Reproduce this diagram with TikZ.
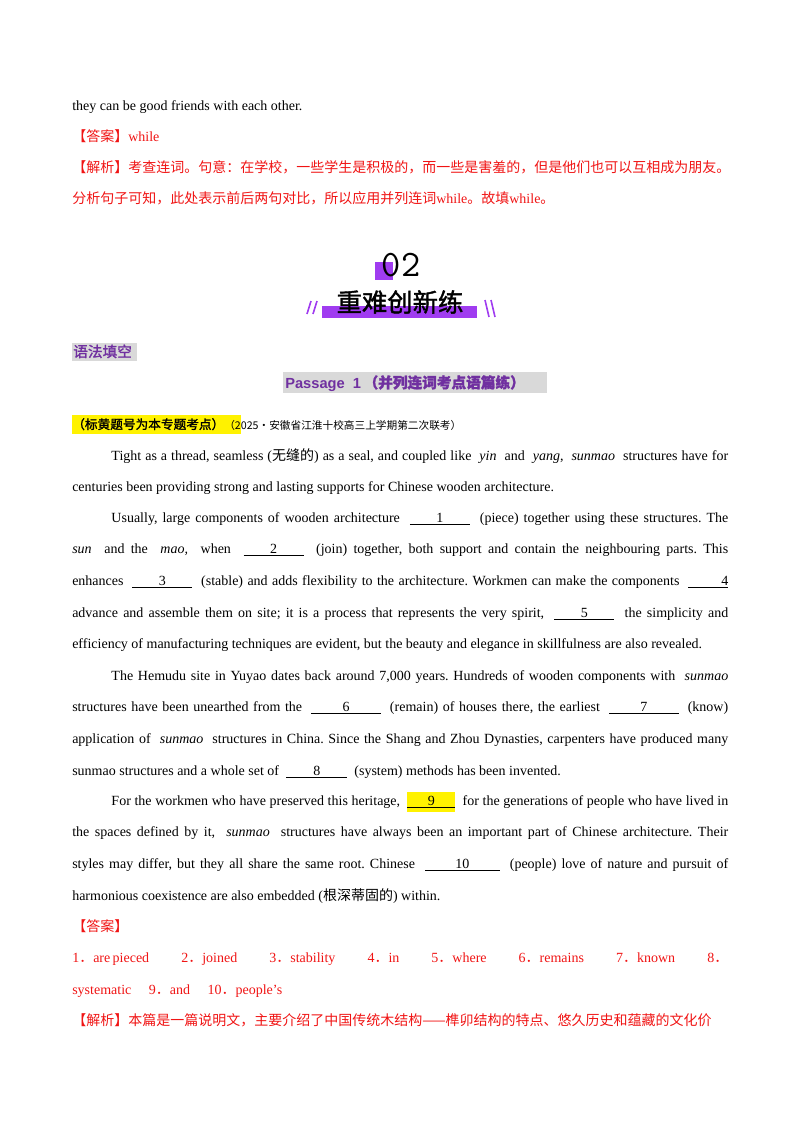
\documentclass[tikz,border=0pt]{standalone}
\usepackage{fontspec}
\setmainfont{Liberation Serif}
\newfontfamily\cjk{Noto Sans CJK SC}
\newfontfamily\hei{Noto Sans CJK SC}[FakeBold=1.5]
\newfontfamily\arl{Liberation Sans}
\definecolor{ans}{RGB}{240,20,20}
\definecolor{pur}{RGB}{112,48,160}
\definecolor{vio}{RGB}{160,60,240}
\newcommand{\bl}[2]{\underline{\makebox[#1pt]{#2}}}
\frenchspacing
\begin{document}
\begin{tikzpicture}[x=0.75pt,y=-0.75pt,
  ln/.style={anchor=base west,inner sep=0,font=\fontsize{10.5}{12}\selectfont\frenchspacing},
  red/.style={ln,text=ans}]
\useasboundingbox (0,0) rectangle (800,1132);
\node[ln] (l1) at (72,110) {they can be good friends with each other.};
\node[red] (l2) at (72,141) {{\cjk 【答案】}while};
\node[red] (l3) at (72,172) {{\cjk 【解析】考查连词。句意：在学校，一些学生是积极的，而一些是害羞的，但是他们也可以互相成为朋友。}};
\node[red] (l4) at (72,203) {{\cjk 分析句子可知，此处表示前后两句对比，所以应用并列连词}while{\cjk 。故填}while{\cjk 。}};
% header
\fill[vio] (375,262) rectangle (393,280);
\node[inner sep=0] (n02) at (401,265) {\fontsize{28}{28}\selectfont\ttfamily 02};
\fill[vio] (322,306) rectangle (477,318);
\node[inner sep=0] (ht) at (400,302) {\fontsize{19}{19}\hei 重难创新练};
\foreach \d in {0,6}{\draw[vio,line width=1.2pt] (307+\d,314) -- (311+\d,301);
 \draw[vio,line width=1.2pt] (485+\d,300) -- (489+\d,317);}
\fill[black!15] (72,343) rectangle (137,361);
\node[ln,text=pur] (s1) at (73,357) {\fontsize{11}{12}\hei 语法填空};
\fill[black!15] (283,372) rectangle (547,393);
\node[ln,text=pur] (s2) at (285,388) {\fontsize{11}{12}\arl\bfseries Passage\ \ 1\,{\hei （并列连词考点语篇练）}};
\fill[yellow] (72,415) rectangle (241,434);
\node[ln] (s3) at (72,429) {\fontsize{9.5}{12}\hei （标黄题号为本专题考点）\fontsize{8}{10}\cjk\mdseries （2025·安徽省江淮十校高三上学期第二次联考）};
\def\W{492pt}
\def\ind{\hspace*{2.8em}}
\node[ln] at (72,460) {\makebox[\W][s]{\ind Tight as a thread, seamless ({\cjk 无缝的}) as a seal, and coupled like \ \textit{yin} \ and \ \textit{yang}, \ \textit{sunmao} \ structures have for}};
\node[ln] at (72,491) {centuries been providing strong and lasting supports for Chinese wooden architecture.};
\node[ln] at (72,522) {\makebox[\W][s]{\ind Usually, large components of wooden architecture \ \bl{45}{1} \ (piece) together using these structures. The}};
\node[ln] at (72,553) {\makebox[\W][s]{\textit{sun} \ and the \ \textit{mao,} \ when \ \bl{45}{2} \ (join) together, both support and contain the neighbouring parts. This}};
\node[ln] at (72,585) {\makebox[\W][s]{enhances \ \bl{45}{3} \ (stable) and adds flexibility to the architecture. Workmen can make the components \ \bl{30}{\hfill4}}};
\node[ln] at (72,617) {\makebox[\W][s]{advance and assemble them on site; it is a process that represents the very spirit, \ \bl{45}{5} \ the simplicity and}};
\node[ln] at (72,648) {efficiency of manufacturing techniques are evident, but the beauty and elegance in skillfulness are also revealed.};
\node[ln] at (72,680) {\makebox[\W][s]{\ind The Hemudu site in Yuyao dates back around 7,000 years. Hundreds of wooden components with \ \textit{sunmao}}};
\node[ln] at (72,711) {\makebox[\W][s]{structures have been unearthed from the \ \bl{52}{6} \ (remain) of houses there, the earliest \ \bl{52}{7} \ (know)}};
\node[ln] at (72,743) {\makebox[\W][s]{application of \ \textit{sunmao} \ structures in China. Since the Shang and Zhou Dynasties, carpenters have produced many}};
\node[ln] at (72,775) {sunmao structures and a whole set of \ \bl{46}{8} \ (system) methods has been invented.};
\node[ln] at (72,805) {\makebox[\W][s]{\ind For the workmen who have preserved this heritage, \ \colorbox{yellow}{\hspace*{-3pt}\bl{36}{9}\hspace*{-3pt}} \ for the generations of people who have lived in}};
\node[ln] at (72,836) {\makebox[\W][s]{the spaces defined by it, \ \textit{sunmao} \ structures have always been an important part of Chinese architecture. Their}};
\node[ln] at (72,868) {\makebox[\W][s]{styles may differ, but they all share the same root. Chinese \ \bl{56}{10} \ (people) love of nature and pursuit of}};
\node[ln] at (72,900) {harmonious coexistence are also embedded ({\cjk 根深蒂固的}) within.};
\node[red] at (72,931) {\cjk 【答案】};
\node[red] at (72,962) {\makebox[\W][s]{1{\cjk ．}are\,pieced \quad 2{\cjk ．}joined \quad 3{\cjk ．}stability \quad 4{\cjk ．}in \quad 5{\cjk ．}where \quad 6{\cjk ．}remains \quad 7{\cjk ．}known \quad 8{\cjk ．}}};
\node[red] at (72,994) {systematic \quad 9{\cjk ．}and \quad 10{\cjk ．}people's};
\node[red] at (72,1025) {\cjk 【解析】本篇是一篇说明文，主要介绍了中国传统木结构——榫卯结构的特点、悠久历史和蕴藏的文化价};
\end{tikzpicture}
\end{document}
